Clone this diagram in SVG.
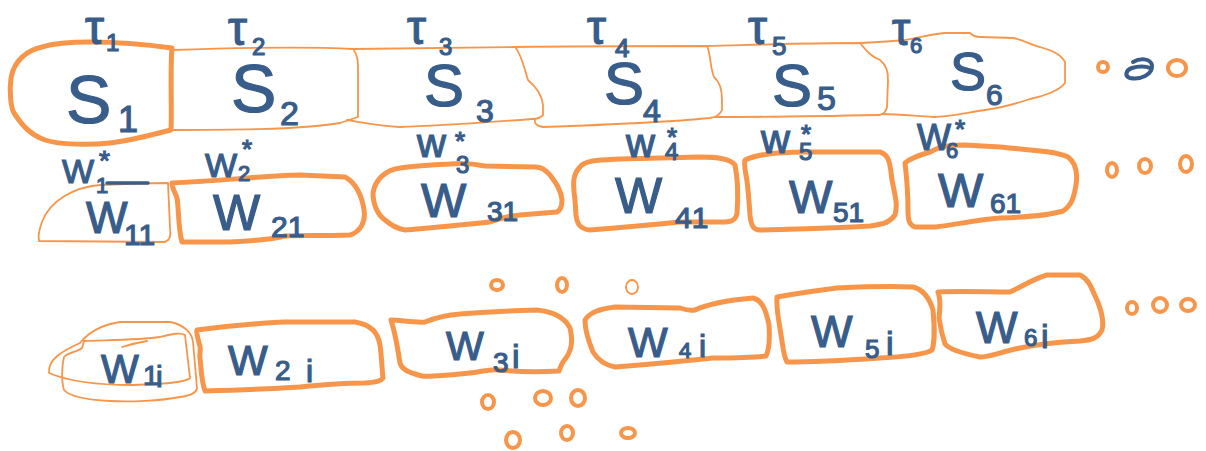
<svg xmlns="http://www.w3.org/2000/svg" width="1206" height="451" viewBox="0 0 1206 451">
<style>
.thick{fill:none;stroke:#F7964A;stroke-width:5;stroke-linejoin:round;stroke-linecap:round}
.thin{fill:none;stroke:#F7964A;stroke-width:1.8;stroke-linejoin:round;stroke-linecap:round}
.dot{fill:none;stroke:#F7964A;stroke-width:4}
.bdot{fill:none;stroke:#385D8A;stroke-width:4;stroke-linecap:round}
text{font-family:"Liberation Sans",Arial,sans-serif;fill:#385D8A;stroke:#385D8A;stroke-width:1.2}
.tau{font-size:48px}
</style>
<rect width="1206" height="451" fill="#FFFFFF"/>
<g id="connectors"></g>

<g id="node-S1">
<path class="thick" d="M 42,47 C 28,50 14,60 11,78 C 9,92 11,108 14,113 C 20,122 28,134 45,140 C 60,145 90,145 110,143 C 135,140 158,133 171,130 C 172,110 170,70 172,48 C 150,45 120,42 90,42 C 70,42 55,43 42,47 Z"/>
<text class="tau" x="85" y="44">τ<tspan font-size="24" x="106" y="51">1</tspan></text>
<text font-size="68" x="66" y="123">S<tspan font-size="36" x="118" y="132">1</tspan></text>
</g>
<g id="node-S2">
<path class="thin" d="M 172,50 C 230,48 300,46 353,49 C 358,55 358,62 358,70 L 358,117 C 352,119 346,121 340,123 C 300,130 220,130 172,130"/>
<text class="tau" x="228" y="45">τ<tspan font-size="24" x="252" y="55">2</tspan></text>
<text font-size="68" x="231" y="112">S<tspan font-size="34" x="280" y="125">2</tspan></text>
</g>
<g id="node-S3">
<path class="thin" d="M 353,49 L 515,47 C 522,55 524,68 528,80 C 535,86 542,95 543,105 L 543,115 C 540,118 536,119 533,119 C 490,122 440,126 400,127 C 380,126 360,122 347,120"/>
<text class="tau" x="407" y="44">τ<tspan font-size="24" x="439" y="55">3</tspan></text>
<text font-size="60" x="424" y="106">S<tspan font-size="32" x="476" y="122">3</tspan></text>
</g>
<g id="node-S4">
<path class="thin" d="M 515,47 C 580,46 650,46 707,46 C 711,55 710,68 714,77 C 720,82 722,90 722,100 L 722,110 C 720,115 716,117 710,118 C 680,121 600,125 543,127 C 536,126 534,123 535,119"/>
<text class="tau" x="587" y="44">τ<tspan font-size="26" x="615" y="57">4</tspan></text>
<text font-size="60" x="604" y="104">S<tspan font-size="32" x="643" y="122">4</tspan></text>
</g>
<g id="node-S5">
<path class="thin" d="M 707,46 C 750,45 800,43 860,43 C 866,50 870,56 880,60 C 887,66 888,72 888,80 L 887,107 C 886,112 884,114 880,115 C 830,116 770,117 715,117"/>
<text class="tau" x="748" y="44">τ<tspan font-size="26" x="772" y="55">5</tspan></text>
<text font-size="60" x="772" y="106">S<tspan font-size="34" x="817" y="110">5</tspan></text>
</g>
<g id="node-S6">
<path class="thin" d="M 860,43 C 880,42 895,41 905,40 C 920,38 930,34 945,33 L 970,33 C 973,36 975,37 980,37 L 1013,38 C 1025,40 1030,45 1040,47 C 1050,50 1060,53 1065,62 L 1065,83 C 1060,90 1045,96 1030,99 C 1015,104 1000,108 985,110 C 960,114 945,117 935,117 C 915,116 900,114 882,114"/>
<text font-size="46" x="892" y="45">τ<tspan font-size="22" x="910" y="53">6</tspan></text>
<text font-size="54" x="950" y="90">S<tspan font-size="30" x="986" y="105">6</tspan></text>
</g>

<g id="node-W11">
<path class="thin" d="M 168,183 C 150,183 120,184 100,185 C 75,187 50,200 42,222 C 39,230 38,236 39,241 L 165,242 C 170,240 171,236 170,228 L 168,183 Z"/>
<text font-size="34" x="62" y="183">W<tspan font-size="22" x="96" y="193">1</tspan><tspan font-size="28" x="99" y="170">*</tspan></text>
<line x1="107" y1="183" x2="148" y2="183" stroke="#385D8A" stroke-width="3.5" stroke-linecap="round"/>
<text font-size="44" x="86" y="233">W<tspan font-size="30" x="124" y="245">11</tspan></text>
</g>
<g id="node-W21">
<path class="thick" d="M 172,183 C 220,181 260,176 300,175 L 345,177 C 355,182 362,195 364,210 C 366,222 360,232 350,235 C 320,236 300,235 285,236 C 270,240 250,241 230,242 L 182,242 C 178,228 179,210 177,198 C 175,192 172,188 172,183 Z"/>
<text font-size="34" x="205" y="177">W<tspan font-size="22" x="238" y="181">2</tspan><tspan font-size="26" x="242" y="158">*</tspan></text>
<text font-size="50" x="213" y="230">W<tspan font-size="30" x="271" y="237">21</tspan></text>
</g>
<g id="node-W31">
<path class="thick" d="M 400,168 C 385,170 375,180 373,193 C 373,205 378,215 385,220 C 392,226 398,229 405,230 C 430,228 460,225 490,222 C 500,218 510,216 520,215 L 557,212 C 561,210 562,205 562,200 C 561,190 556,183 550,175 C 545,170 542,167 535,167 L 485,166 C 470,163 460,163 450,164 C 430,165 415,166 400,168 Z"/>
<text font-size="40" x="417" y="157">w<tspan font-size="24" x="456" y="173">3</tspan><tspan font-size="26" x="455" y="150">*</tspan></text>
<text font-size="48" x="421" y="217">W<tspan font-size="28" x="487" y="221">31</tspan></text>
</g>
<g id="node-W41">
<path class="thick" d="M 580,167 C 585,160 600,160 620,159 L 700,157 C 715,157 730,158 735,165 C 738,180 738,200 737,213 C 736,220 732,222 725,222 L 680,222 C 650,225 615,228 590,230 C 580,229 577,224 576,215 L 575,200 C 573,185 572,175 580,167 Z"/>
<text font-size="40" x="626" y="157">w<tspan font-size="24" x="665" y="160">4</tspan><tspan font-size="26" x="667" y="146">*</tspan></text>
<text font-size="50" x="615" y="213">W<tspan font-size="30" x="675" y="228">41</tspan></text>
</g>
<g id="node-W51">
<path class="thick" d="M 745,160 C 760,153 780,153 800,152 L 880,152 C 890,155 890,165 892,180 C 895,195 898,205 895,215 C 890,222 885,224 870,226 C 840,228 800,229 760,230 C 753,230 751,225 750,215 C 749,200 748,185 746,175 C 745,170 744,165 745,160 Z"/>
<text font-size="40" x="761" y="153">w<tspan font-size="24" x="799" y="160">5</tspan><tspan font-size="26" x="801" y="143">*</tspan></text>
<text font-size="46" x="789" y="213">W<tspan font-size="28" x="833" y="222">51</tspan></text>
</g>
<g id="node-W61">
<path class="thick" d="M 905,163 C 910,158 920,155 930,152 C 940,146 950,145 965,145 L 1000,147 C 1030,150 1055,151 1068,157 C 1076,163 1078,172 1076,185 C 1074,197 1072,205 1063,211 C 1050,215 1030,217 1000,218 C 975,220 955,225 935,227 L 915,227 C 909,225 908,220 908,210 C 908,195 907,180 905,163 Z"/>
<text font-size="36" x="917" y="150">W<tspan font-size="22" x="946" y="158">6</tspan><tspan font-size="26" x="955" y="138">*</tspan></text>
<text font-size="48" x="938" y="207">W<tspan font-size="28" x="990" y="213">61</tspan></text>
</g>

<g id="node-W1i">
<path class="thin" d="M 122,347 Q 135,343 147,341 M 49,373 C 48,360 60,352 80,343 C 88,333 100,325 120,322 L 170,322 C 182,324 192,332 193,342 L 197,388 Q 196,395 180,397 C 160,401 130,402 110,401 C 90,400 70,397 64,390 C 61,380 62,365 64,357 C 68,352 78,352 82,348 L 84,341 C 110,340 140,340 160,337 C 172,334 180,332 185,335 L 190,378 C 185,383 160,384 133,385 C 100,385 70,382 49,373 Z"/>
<text font-size="40" x="101" y="383">W<tspan font-size="28" x="143" y="385">1</tspan><tspan font-size="30" x="156" y="387">i</tspan></text>
</g>
<g id="node-W2i">
<path class="thick" d="M 197,330 C 230,326 260,323 285,322 L 355,322 C 372,325 378,333 380,345 C 382,360 382,370 383,378 C 380,382 375,382 365,383 C 340,383 320,385 300,387 C 270,389 240,390 205,391 C 201,380 201,365 200,358 C 199,352 202,350 199,343 C 198,338 196,333 197,330 Z"/>
<text font-size="42" x="228" y="375">W<tspan font-size="28" x="275" y="380">2</tspan><tspan font-size="32" x="306" y="382">i</tspan></text>
</g>
<g id="node-W3i">
<path class="thick" d="M 391,320 C 400,320 415,323 425,322 C 435,318 445,315 460,314 C 480,312 500,311 537,310 C 555,312 565,318 570,328 C 573,340 572,350 566,358 C 562,362 561,366 559,371 C 540,372 520,372 500,370 C 490,369 480,372 470,373 C 450,375 430,377 422,376 C 410,373 402,370 400,363 C 398,350 396,338 393,327 Z"/>
<text font-size="40" x="446" y="360">W<tspan font-size="28" x="493" y="372">3</tspan><tspan font-size="34" x="512" y="368">i</tspan></text>
</g>
<g id="node-W4i">
<path class="thick" d="M 585,320 C 590,312 600,309 615,307 L 680,308 C 686,310 690,311 695,310 C 710,303 730,300 753,298 C 762,300 766,310 769,325 C 770,340 769,350 766,356 C 750,358 730,358 713,358 C 690,360 660,364 615,367 C 604,365 598,360 593,352 C 588,340 585,330 585,320 Z"/>
<text font-size="42" x="628" y="357">W<tspan font-size="22" x="679" y="358">4</tspan><tspan font-size="32" x="699" y="357">i</tspan></text>
</g>
<g id="node-W5i">
<path class="thick" d="M 777,297 C 800,293 820,290 837,288 C 860,287 890,286 913,287 C 925,290 930,300 933,310 C 935,330 934,345 932,350 C 925,355 900,357 880,358 C 850,360 820,362 787,362 C 783,355 783,345 781,335 C 779,320 776,310 777,297 Z"/>
<text font-size="44" x="811" y="347">W<tspan font-size="26" x="865" y="358">5</tspan><tspan font-size="34" x="886" y="355">i</tspan></text>
</g>
<g id="node-W6i">
<path class="thick" d="M 938,292 C 960,291 990,292 1010,292 C 1025,285 1035,278 1047,275 L 1080,275 C 1090,280 1092,290 1097,300 C 1102,312 1104,322 1102,330 C 1098,338 1092,340 1080,341 C 1060,342 1040,344 1020,348 C 1000,352 990,357 980,357 C 965,354 950,350 945,344 C 942,335 940,325 939,318 C 940,310 941,300 938,292 Z"/>
<text font-size="44" x="976" y="343">W<tspan font-size="24" x="1024" y="346">6</tspan><tspan font-size="34" x="1041" y="348">i</tspan></text>
</g>

<g id="ellipsis-dots">
<ellipse class="dot" cx="1103" cy="67" rx="5" ry="5"/>
<path class="bdot" d="M 1133,62 C 1140,58 1150,58 1152,65 C 1153,75 1140,80 1130,78 C 1124,76 1126,70 1132,68 C 1138,66 1146,66 1150,68"/>
<ellipse class="dot" cx="1177" cy="68" rx="9" ry="8"/>
<ellipse class="dot" cx="1112" cy="170" rx="5" ry="7"/>
<ellipse class="dot" cx="1145" cy="166" rx="6" ry="7"/>
<ellipse class="dot" cx="1186" cy="164" rx="6" ry="8"/>
<ellipse class="dot" cx="1132" cy="308" rx="5" ry="6"/>
<ellipse class="dot" cx="1160" cy="305" rx="7" ry="7"/>
<ellipse class="dot" cx="1188" cy="305" rx="7" ry="6"/>
<ellipse class="dot" cx="497" cy="285" rx="6" ry="5"/>
<ellipse class="dot" cx="562" cy="285" rx="5" ry="7"/>
<ellipse class="thin" cx="632" cy="287" rx="6" ry="7"/>
<ellipse class="dot" cx="488" cy="402" rx="6" ry="7"/>
<ellipse class="dot" cx="543" cy="398" rx="8" ry="7"/>
<ellipse class="dot" cx="578" cy="398" rx="7" ry="8"/>
<ellipse class="dot" cx="513" cy="440" rx="7" ry="8"/>
<ellipse class="dot" cx="567" cy="433" rx="6" ry="7"/>
<ellipse class="dot" cx="628" cy="433" rx="7" ry="5"/>
</g>
</svg>
